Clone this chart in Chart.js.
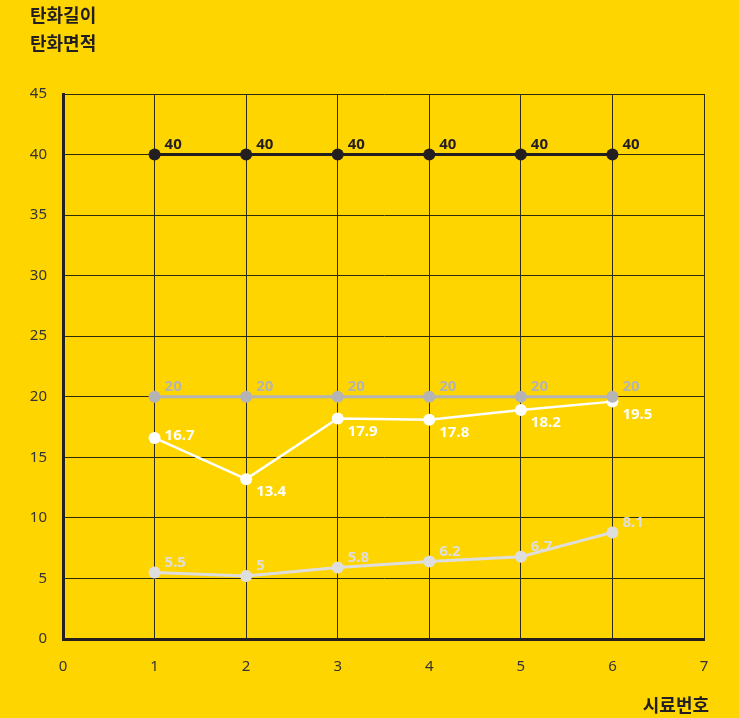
<!DOCTYPE html>
<html>
<head>
<meta charset="utf-8">
<script src="https://cdn.jsdelivr.net/npm/chart.js@4/dist/chart.umd.min.js"></script>
<style>
  html, body { margin: 0; padding: 0; background: #FFD500; }
  #wrap { width: 739px; height: 718px; }
</style>
</head>
<body>
<div id="wrap"><canvas id="chart" width="739" height="718"></canvas></div>
<script>
// 시료번호
const samples = [1, 2, 3, 4, 5, 6];
const xTicks = [0, 1, 2, 3, 4, 5, 6, 7];
const yTicks = [0, 5, 10, 15, 20, 25, 30, 35, 40, 45];

// 기준선 / 측정값
const blackValues = [40, 40, 40, 40, 40, 40];
const blackLabels = ["40", "40", "40", "40", "40", "40"];
const grayValues = [20, 20, 20, 20, 20, 20];
const grayLabels = ["20", "20", "20", "20", "20", "20"];
const whiteValues = [16.6, 13.2, 18.2, 18.1, 18.9, 19.6];
const whiteLabels = ["16.7", "13.4", "17.9", "17.8", "18.2", "19.5"];
const lightValues = [5.5, 5.2, 5.9, 6.4, 6.8, 8.8];
const lightLabels = ["5.5", "5", "5.8", "6.2", "6.7", "8.1"];

const BG = "#FFD500";
const DARK = "#231F20";

function toPoints(vals) {
    return samples.map((s, i) => ({ x: s, y: vals[i] }));
}

function series(vals, labels, color, width, labelPos) {
    return {
        data: toPoints(vals),
        valueLabels: labels,
        labelPos: labelPos,
        borderColor: color,
        backgroundColor: color,
        borderWidth: width,
        pointBackgroundColor: color,
        pointBorderColor: color,
        pointBorderWidth: 0,
        pointRadius: 6,
        pointHoverRadius: 6,
        tension: 0
    };
}

// 값 라벨 그리기 (datalabels 대신)
const valueLabelPlugin = {
    id: "valueLabels",
    afterDatasetsDraw(chart) {
        const ctx = chart.ctx;
        ctx.save();
        ctx.font = "bold 15px 'Noto Sans', sans-serif";
        ctx.textAlign = "left";
        ctx.textBaseline = "middle";
        chart.data.datasets.forEach((ds, di) => {
            const meta = chart.getDatasetMeta(di);
            ctx.fillStyle = ds.borderColor;
            meta.data.forEach((pt, i) => {
                const pos = Array.isArray(ds.labelPos) ? ds.labelPos[i] : ds.labelPos;
                let dy = -10;
                if (pos === "below") dy = 13;
                if (pos === "right") dy = -2;
                ctx.fillText(ds.valueLabels[i], pt.x + 10, pt.y + dy);
            });
        });
        ctx.restore();
    }
};

// 축 제목
const titlePlugin = {
    id: "titles",
    afterDraw(chart) {
        const ctx = chart.ctx;
        ctx.save();
        ctx.fillStyle = DARK;
        ctx.font = "bold 18px 'Noto Sans CJK KR', sans-serif";
        ctx.textBaseline = "middle";
        ctx.textAlign = "left";
        ctx.fillText("탄화길이", 30, 15);
        ctx.fillText("탄화면적", 30, 43);
        ctx.textAlign = "right";
        ctx.fillText("시료번호", 709, 705);
        ctx.restore();
    }
};

const bgPlugin = {
    id: "bg",
    beforeDraw(chart) {
        const ctx = chart.ctx;
        ctx.save();
        ctx.fillStyle = BG;
        ctx.fillRect(0, 0, chart.width, chart.height);
        ctx.restore();
    }
};

new Chart(document.getElementById("chart").getContext("2d"), {
    type: "line",
    data: {
        datasets: [
            series(blackValues, blackLabels, DARK, 3, "above"),
            series(grayValues, grayLabels, "#B4B4B4", 3, "above"),
            series(whiteValues, whiteLabels, "#FFFFFF", 2.5, ["right", "below", "below", "below", "below", "below"]),
            series(lightValues, lightLabels, "#DEDEDE", 3, "above")
        ]
    },
    options: {
        responsive: false,
        animation: false,
        layout: { padding: { top: 94, right: 35, left: 0, bottom: 0 } },
        scales: {
            x: {
                type: "linear",
                min: 0,
                max: 7,
                afterBuildTicks: (s) => { s.ticks = xTicks.map(v => ({ value: v })); },
                afterFit: (s) => { s.height = 79; },
                ticks: {
                    color: "#333",
                    font: { family: "'Noto Sans', sans-serif", size: 15 },
                    padding: 19
                },
                grid: { color: "#2E2A10", lineWidth: 1, drawTicks: false },
                border: { color: DARK, width: 3 }
            },
            y: {
                min: 0,
                max: 45,
                afterBuildTicks: (s) => { s.ticks = yTicks.map(v => ({ value: v })); },
                afterFit: (s) => { s.width = 63; },
                ticks: {
                    color: "#333",
                    font: { family: "'Noto Sans', sans-serif", size: 15 },
                    padding: 16
                },
                grid: { color: "#2E2A10", lineWidth: 1, drawTicks: false },
                border: { color: DARK, width: 3 }
            }
        },
        plugins: {
            legend: { display: false },
            tooltip: { enabled: false }
        }
    },
    plugins: [bgPlugin, valueLabelPlugin, titlePlugin]
});
</script>
</body>
</html>
